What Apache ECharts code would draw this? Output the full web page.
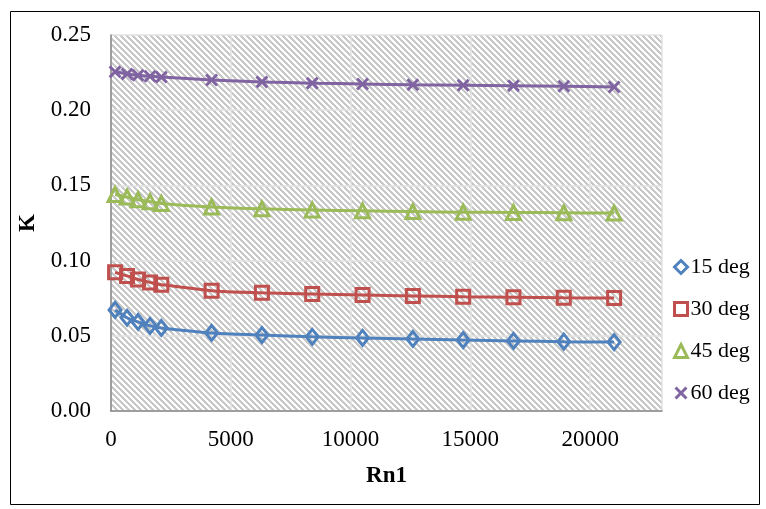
<!DOCTYPE html>
<html>
<head>
<meta charset="utf-8">
<script src="https://cdn.jsdelivr.net/npm/echarts@6/dist/echarts.min.js"></script>
<style>html,body{margin:0;padding:0;background:#fff}#c{width:766px;height:509px}</style>
</head>
<body>
<div id="c"></div>
<script>
const rn1 = [170, 670, 1130, 1630, 2100, 4200, 6300, 8400, 10500, 12600, 14700, 16800, 18900, 21000];
const k15 = [0.0672, 0.0620, 0.0592, 0.0566, 0.0552, 0.0519, 0.0505, 0.0493, 0.0486, 0.0479, 0.0472, 0.0466, 0.0461, 0.0458];
const k30 = [0.0922, 0.0898, 0.0874, 0.0855, 0.0840, 0.0800, 0.0786, 0.0778, 0.0771, 0.0765, 0.0760, 0.0757, 0.0753, 0.0751];
const k45 = [0.1440, 0.1423, 0.1405, 0.1392, 0.1380, 0.1357, 0.1344, 0.1337, 0.1331, 0.1326, 0.1322, 0.1320, 0.1318, 0.1316];
const k60 = [0.2255, 0.2241, 0.2232, 0.2226, 0.2220, 0.2201, 0.2188, 0.2180, 0.2174, 0.2169, 0.2166, 0.2163, 0.2159, 0.2154];
const seriesNames = ['15 deg', '30 deg', '45 deg', '60 deg'];
const xTicks = [0, 5000, 10000, 15000, 20000];
const yTicks = ['0.00', '0.05', '0.10', '0.15', '0.20', '0.25'];

const colors = ['#4F81BD', '#C0504D', '#9BBB59', '#8064A2'];
const xPath = 'path://M0,1.6 L1.6,0 L5,3.4 L8.4,0 L10,1.6 L6.6,5 L10,8.4 L8.4,10 L5,6.6 L1.6,10 L0,8.4 L3.4,5 Z';
const symbols = ['diamond', 'rect', 'triangle', xPath];
const symSizes = [[12, 15], 13, 14, 13];

// hatch pattern
const pc = document.createElement('canvas');
const P = 6;
pc.width = P; pc.height = P;
const ctx = pc.getContext('2d');
const img = ctx.createImageData(P, P);
for (let y = 0; y < P; y++) {
  for (let x = 0; x < P; x++) {
    const d = ((x - y) % P + P) % P;
    const v = d < 3 ? 200 : 255;
    const i = (y * P + x) * 4;
    img.data[i] = v; img.data[i + 1] = v; img.data[i + 2] = v; img.data[i + 3] = 255;
  }
}
ctx.putImageData(img, 0, 0);

const font = '"Liberation Serif", "Times New Roman", serif';
const datasets = [k15, k30, k45, k60];

const chart = echarts.init(document.getElementById('c'), null, { renderer: 'canvas' });
chart.setOption({
  animation: false,
  backgroundColor: '#fff',
  graphic: [{
    type: 'rect', left: 8, top: 9, shape: { width: 749, height: 493 },
    style: { fill: 'none', stroke: '#000', lineWidth: 1 }, silent: true, z: -1
  }],
  grid: {
    left: 111, top: 35, right: 104, bottom: 98,
    show: true, backgroundColor: { image: pc, repeat: 'repeat' }, borderWidth: 0
  },
  legend: {
    orient: 'vertical', left: 668, top: 251, itemGap: 20,
    itemWidth: 13, itemHeight: 13,
    textStyle: { fontFamily: font, fontSize: 22, color: '#000', padding: [0, 0, 0, -2] },
    data: seriesNames.map((n, i) => ({
      name: n,
      icon: symbols[i],
      itemStyle: i === 3 ? { color: colors[i], borderWidth: 0 } : { color: '#fff', borderColor: colors[i], borderWidth: 3 }
    }))
  },
  xAxis: {
    type: 'value', min: 0, max: 23000, interval: 5000,
    name: 'Rn1', nameLocation: 'middle', nameGap: 54,
    nameTextStyle: { fontFamily: font, fontSize: 23, fontWeight: 'bold', color: '#000' },
    axisLine: { show: true, lineStyle: { color: '#868686', width: 1.5 } },
    axisTick: { show: false },
    axisLabel: {
      fontFamily: font, fontSize: 23, color: '#000', margin: 17, showMaxLabel: false,
      formatter: v => (xTicks.indexOf(v) >= 0 ? String(v) : '')
    },
    splitLine: { show: true, lineStyle: { color: '#e2e2e2', width: 1.5 } }
  },
  yAxis: {
    type: 'value', min: 0, max: 0.25, interval: 0.05,
    name: 'K', nameLocation: 'middle', nameGap: 70, nameRotate: 90,
    nameTextStyle: { fontFamily: font, fontSize: 23, fontWeight: 'bold', color: '#000' },
    axisLine: { show: true, lineStyle: { color: '#868686', width: 1.5 } },
    axisTick: { show: false },
    axisLabel: {
      fontFamily: font, fontSize: 23, color: '#000', margin: 20,
      formatter: v => yTicks[Math.round(v / 0.05)] || ''
    },
    splitLine: { show: true, lineStyle: { color: '#e2e2e2', width: 1.5 } }
  },
  series: datasets.map((vals, i) => ({
    name: seriesNames[i],
    type: 'line',
    smooth: 0.3,
    data: rn1.map((x, j) => [x, vals[j]]),
    symbol: symbols[i],
    symbolSize: symSizes[i],
    showAllSymbol: true,
    lineStyle: { color: colors[i], width: 3 },
    itemStyle: i === 3 ? { color: colors[i], borderWidth: 0 } : { color: 'rgba(255,255,255,0)', borderColor: colors[i], borderWidth: 3 },
    emphasis: { disabled: true }
  }))
});
</script>
</body>
</html>
